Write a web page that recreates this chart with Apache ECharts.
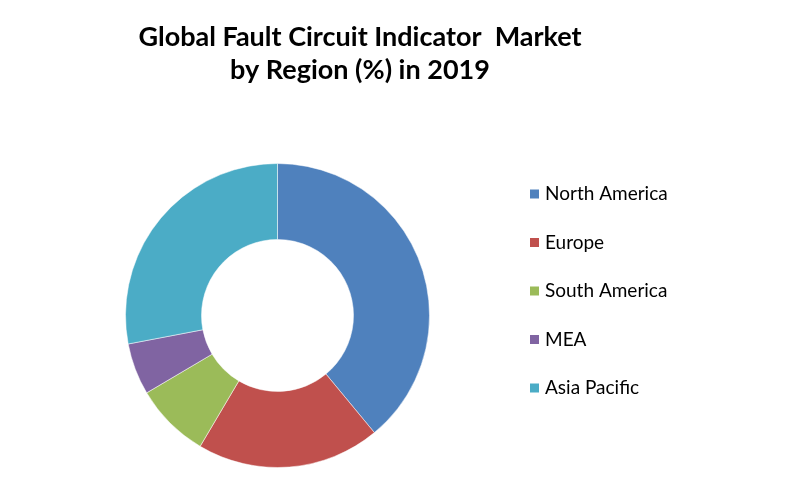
<!DOCTYPE html>
<html><head><meta charset="utf-8">
<script src="https://cdn.jsdelivr.net/npm/echarts@6/dist/echarts.min.js"></script>
<style>html,body{margin:0;padding:0;background:#fff}#c{width:804px;height:495px}</style>
</head><body><div id="c"></div>
<script>
const categories = ['North America', 'Europe', 'South America', 'MEA', 'Asia Pacific'];
const values = [39, 19.5, 8, 5.5, 28];
const colors = ['#4F81BD', '#C0504D', '#9BBB59', '#8064A2', '#4BACC6'];
const titleText = 'Global Fault Circuit Indicator  Market\nby Region (%) in 2019';

const chart = echarts.init(document.getElementById('c'));
chart.setOption({
  animation: false,
  backgroundColor: '#fff',
  color: colors,
  title: {
    text: titleText,
    left: 355, top: 16, textAlign: 'center',
    textStyle: { fontFamily: 'Lato', fontWeight: 'bold', fontSize: 27, lineHeight: 33, color: '#000' }
  },
  legend: {
    orient: 'vertical', left: 523, top: 179,
    itemWidth: 11, itemHeight: 11, itemGap: 28.5,
    icon: 'rect',
    textStyle: { fontFamily: 'Lato', fontSize: 19, lineHeight: 20, color: '#000' },
    data: categories
  },
  series: [{
    type: 'pie',
    center: [277.5, 315.5],
    radius: [76, 152],
    startAngle: 90,
    clockwise: true,
    label: { show: false },
    labelLine: { show: false },
    itemStyle: { borderColor: '#fff', borderWidth: 0.5 },
    emphasis: { disabled: true },
    data: categories.map((n, i) => ({ name: n, value: values[i] }))
  }]
});
</script></body></html>
